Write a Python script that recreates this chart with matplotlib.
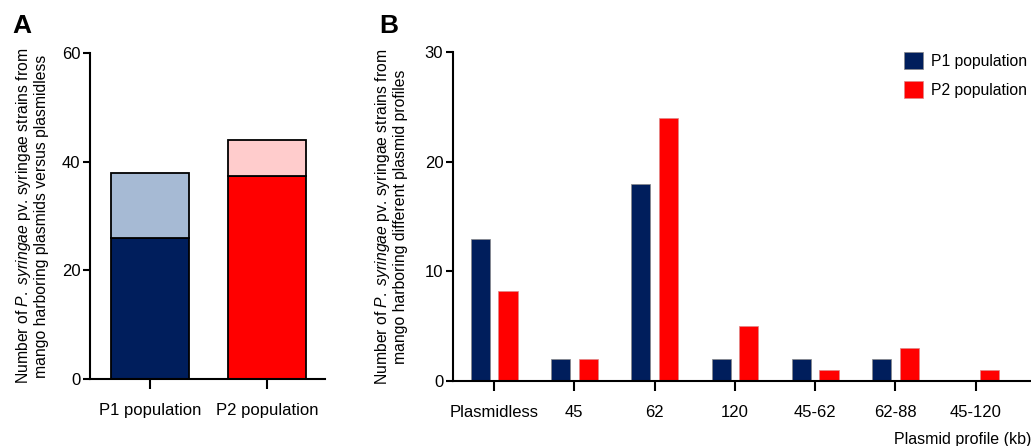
import numpy as np
import matplotlib.pyplot as plt

plt.rcParams['font.family'] = ['Liberation Sans', 'DejaVu Sans']
plt.rcParams['mathtext.fontset'] = 'custom'
plt.rcParams['mathtext.rm'] = 'Liberation Sans'
plt.rcParams['mathtext.it'] = 'Liberation Sans:italic'

# panel A: stacked totals
groups_a = ['P1 population', 'P2 population']
lower_a = [26, 37.4]
upper_a = [12, 6.6]
lower_colors = ['#001e5c', '#ff0000']
upper_colors = ['#a6bad4', '#ffcccc']

# panel B: plasmid profiles
profiles = ['Plasmidless', '45', '62', '120', '45-62', '62-88', '45-120']
p1_counts = [13, 2, 18, 2, 2, 2, 0]
p2_counts = [8.2, 2, 24, 5, 1, 3, 1]

navy = '#001e5c'
red = '#ff0000'

fig = plt.figure(figsize=(10.31, 4.46), dpi=100)

# --- panel A ---
ax1 = fig.add_axes([0.0873, 0.150, 0.228, 0.731])
xa = np.arange(len(groups_a))
ax1.bar(xa, lower_a, width=0.667, color=lower_colors, edgecolor='black', linewidth=1.3)
ax1.bar(xa, upper_a, bottom=lower_a, width=0.667, color=upper_colors, edgecolor='black', linewidth=1.3)
ax1.set_xlim(-0.513, 1.496)
ax1.set_ylim(0, 60)
ax1.set_yticks([0, 20, 40, 60])
ax1.set_xticks(xa)
ax1.set_xticklabels(groups_a)
ax1.set_ylabel('Number of $\\it{P.\\ syringae}$ pv. syringae strains from\nmango harboring plasmids versus plasmidless',
               fontsize=11.3, labelpad=9, linespacing=1.1)

# --- panel B ---
ax2 = fig.add_axes([0.4394, 0.1457, 0.5606, 0.7373])
xb = np.arange(len(profiles))
ax2.bar(xb - 0.17, p1_counts, width=0.24, color=navy, edgecolor='#888888', linewidth=0.5,
        label='P1 population')
ax2.bar(xb + 0.175, p2_counts, width=0.24, color=red, edgecolor='#dd8888', linewidth=0.5,
        label='P2 population')
ax2.set_xlim(-0.51, 6.69)
ax2.set_ylim(0, 30)
ax2.set_yticks([0, 10, 20, 30])
ax2.set_xticks(xb)
ax2.set_xticklabels(profiles)
ax2.set_ylabel('Number of $\\it{P.\\ syringae}$ pv. syringae strains from\nmango harboring different plasmid profiles',
               fontsize=11.3, labelpad=12, linespacing=1.1)
ax2.set_xlabel('Plasmid profile (kb)', fontsize=11.5, loc='right', labelpad=9)
ax2.legend(loc='upper left', bbox_to_anchor=(0.78, 1.0), frameon=False, fontsize=11.3,
           handlelength=1.25, handleheight=1.25, labelspacing=0.78, handletextpad=0.45,
           borderaxespad=0, borderpad=0)

for ax in (ax1, ax2):
    ax.spines['top'].set_visible(False)
    ax.spines['right'].set_visible(False)
    ax.spines['left'].set_linewidth(1.5)
    ax.spines['bottom'].set_linewidth(1.5)
    ax.tick_params(axis='y', length=5, width=1.5, labelsize=12, pad=2)
    ax.tick_params(axis='x', length=7, width=1.5, labelsize=12, pad=10)

fig.text(0.012, 0.925, 'A', fontsize=19, fontweight='bold')
fig.text(0.368, 0.925, 'B', fontsize=19, fontweight='bold')

plt.savefig('out.png', dpi=100)
